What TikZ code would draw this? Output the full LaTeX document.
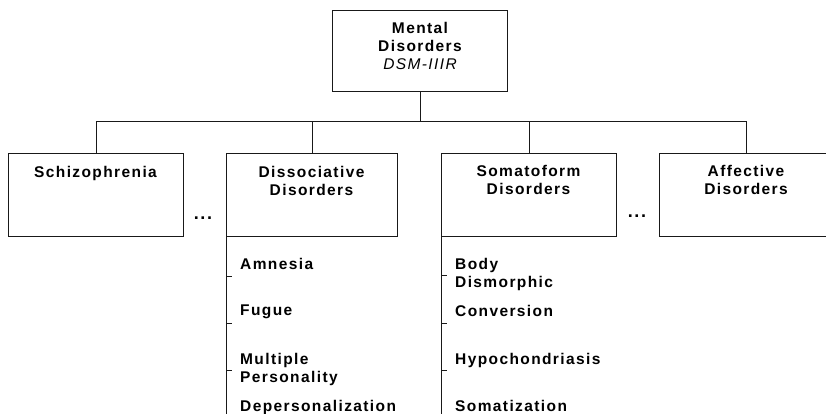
\documentclass[tikz,border=0pt]{standalone}
\usepackage{fontspec}
\setmainfont{Liberation Sans}[LetterSpace=9]
\begin{document}
\begin{tikzpicture}[x=1pt,y=-1pt,
  box/.style={draw=black!90, line width=0.9pt, inner sep=0pt, anchor=north west},
  conn/.style={draw=black!90, line width=0.9pt},
  lbl/.style={font=\bfseries\fontsize{15.5}{17.8}\selectfont, inner sep=0pt, align=center, anchor=north},
  item/.style={lbl, align=left, anchor=north west}]
\clip (0,0) rectangle (826,414);
\fill[white] (0,0) rectangle (826,414);
% boxes
\node[box, minimum width=175pt, minimum height=81pt] (top) at (332,10) {};
\node[box, minimum width=175pt, minimum height=83pt] (schiz) at (8,153) {};
\node[box, minimum width=171pt, minimum height=83pt] (dissoc) at (226,153) {};
\node[box, minimum width=175pt, minimum height=83pt] (somato) at (441,153) {};
\node[box, minimum width=174pt, minimum height=83pt] (affect) at (659,153) {};
% box texts
\node[lbl] (topt) at (420,22.5) {Mental\\Disorders\\{\mdseries\itshape DSM-IIIR}};
\node[lbl] (schizt) at (95.5,166.5) {Schizophrenia};
\node[lbl] (dissoct) at (311.5,166) {Dissociative\\Disorders};
\node[lbl] (somatot) at (528.5,165.5) {Somatoform\\Disorders};
\node[lbl] (affectt) at (746,165.5) {Affective\\Disorders};
% dots
\node[lbl, anchor=center, font=\bfseries\fontsize{18}{18}\selectfont] (dots1) at (203,218) {...};
\node[lbl, anchor=center, font=\bfseries\fontsize{18}{18}\selectfont] (dots2) at (637,216) {...};
% bus
\coordinate (busy) at (0,121);
\coordinate (boty) at (0,416);
\draw[conn] (top.south) -- (top.south |- busy);
\draw[conn] (schiz.north |- busy) -- (affect.north |- busy);
\draw[conn] (schiz.north) -- (schiz.north |- busy);
\draw[conn] (dissoc.north) -- (dissoc.north |- busy);
\draw[conn] (somato.north) -- (somato.north |- busy);
\draw[conn] (affect.north) -- (affect.north |- busy);
% children lines
\draw[conn] (dissoc.south west) -- (dissoc.south west |- boty);
\draw[conn] (somato.south west) -- (somato.south west |- boty);
\coordinate (d1) at (226,276);
\coordinate (d2) at (226,323);
\coordinate (d3) at (226,370);
\coordinate (s1) at (441,275);
\coordinate (s2) at (441,323);
\coordinate (s3) at (441,370);
\foreach \c in {d1,d2,d3,s1,s2,s3} \draw[conn] (\c) -- ++(6,0);
% items
\node[item] (amn) at (240,258) {Amnesia};
\node[item] (fug) at (240,305) {Fugue};
\node[item] (mult) at (240,353) {Multiple\\Personality};
\node[item] (dep) at (240,400) {Depersonalization};
\node[item] (body) at (455,258) {Body\\Dismorphic};
\node[item] (conv) at (455,305) {Conversion};
\node[item] (hypo) at (455,353) {Hypochondriasis};
\node[item] (soma) at (455,400) {Somatization};
\end{tikzpicture}
\end{document}
